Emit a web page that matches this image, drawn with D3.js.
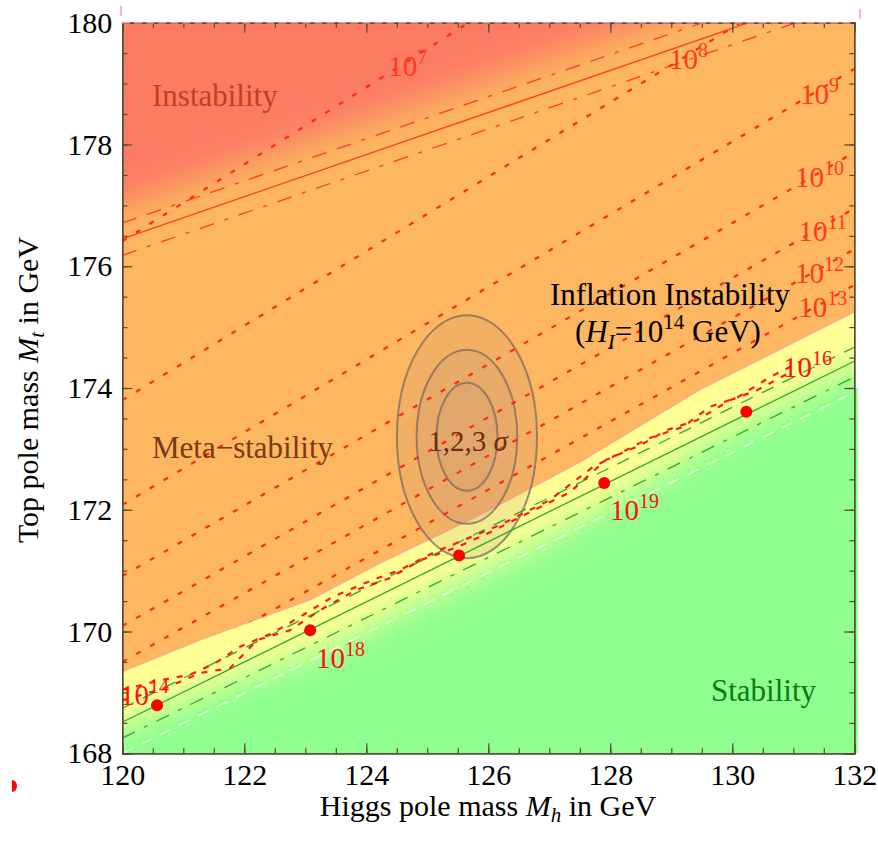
<!DOCTYPE html>
<html>
<head>
<meta charset="utf-8">
<script src="https://cdn.jsdelivr.net/npm/d3@7"></script>
<style>
  body { margin: 0; background: #fff; }
  svg text { font-family: "Liberation Serif", "Times New Roman", serif; }
</style>
</head>
<body>
<div id="chart"></div>
<script>
// Axis ranges and tick labels.
const mhDomain = [120, 132];
const mtDomain = [168, 180];
const mhTicks = [120, 122, 124, 126, 128, 130, 132];
const mtTicks = [168, 170, 172, 174, 176, 178, 180];

// Instability-scale contours (10^n GeV): top mass at Mh = 120 and Mh = 132.
const contourExps = [7, 8, 9, 10, 11, 12, 13];
const contourMt120 = [176.41, 173.80, 172.08, 170.91, 170.09, 169.50, 168.97];
const contourMt132 = [184.00, 181.14, 179.24, 177.87, 176.95, 176.28, 175.69];

// Lifetime boundary (red, top) and its band.
const lifeCentral = [[120, 176.45], [132, 180.60]];
const lifeUpper = [[120, 176.71], [132, 180.86]];
const lifeLower = [[120, 176.18], [132, 180.33]];
// Edge of the red "Instability" shading.
const instabEdge = [[120, 177.00], [132, 181.15]];

// Absolute stability line (green) and its band.
const stabCentral = [[120, 168.51], [132, 174.44]];
const stabUpper = [[120, 168.74], [132, 174.67]];
const stabLower = [[120, 168.25], [132, 174.18]];
const stabLower2 = [[120, 168.00], [132, 173.93]];

// Inflation instability boundary for H_I = 10^14 GeV.
const inflationEdge = [
  [120.00, 169.34], [121.28, 169.86], [123.08, 170.52], [124.22, 171.12],
  [125.86, 171.91], [127.50, 172.78], [129.47, 173.97], [132.00, 175.25]
];

// Noisy high-scale contours near the stability line.
const wiggleA = [
  [120.00, 169.04], [120.62, 169.20], [121.11, 169.29], [121.52, 169.48],
  [121.93, 169.75], [122.47, 169.98], [122.91, 170.24], [123.45, 170.57],
  [124.11, 170.85], [124.55, 171.01], [125.09, 171.29], [125.59, 171.50],
  [126.19, 171.75], [127.01, 172.16], [127.71, 172.70], [128.16, 172.93],
  [128.65, 173.18], [129.19, 173.36], [129.63, 173.69], [130.09, 173.85],
  [130.62, 174.18], [131.11, 174.43]
];
const wiggleB = [
  [120.00, 168.87], [120.70, 169.07], [121.28, 169.32], [121.77, 169.40],
  [122.21, 169.86], [122.75, 170.02], [123.24, 170.35], [123.83, 170.68],
  [124.39, 170.88], [124.88, 171.17], [125.45, 171.37], [126.03, 171.63],
  [126.68, 171.96], [127.34, 172.29], [127.93, 172.82], [128.49, 173.06],
  [128.93, 173.31], [129.42, 173.47], [129.96, 173.80], [130.40, 173.96],
  [130.95, 174.26]
];

// Points on the stability line.
const dotMh = [120.57, 123.08, 125.52, 127.90, 130.23];
const dotMt = [168.79, 170.02, 171.25, 172.44, 173.61];

// Measured masses: 1,2,3 sigma ellipses.
const ellipseCenter = [125.65, 173.20];
const ellipseRMh = [1.148, 0.825, 0.50];
const ellipseRMt = [1.995, 1.43, 0.887];

// Page and plot geometry.
const W = 878, H = 848;
const px0 = 122.3, px1 = 854.3, py0 = 753.3, py1 = 22.7;

const x = d3.scaleLinear().domain(mhDomain).range([px0, px1]);
const y = d3.scaleLinear().domain(mtDomain).range([py0, py1]);

const svg = d3.select('#chart').append('svg')
  .attr('width', W)
  .attr('height', H);

const lineAt = (seg, mh) => seg[0][1] + (seg[1][1] - seg[0][1]) * (mh - seg[0][0]) / (seg[1][0] - seg[0][0]);
const line = d3.line().x(d => x(d[0])).y(d => y(d[1]));

// Extend the inflation edge a bit beyond the plot so blur does not fade at the sides.
const n = inflationEdge.length;
const edgeExt = [
  [118, lineAt([inflationEdge[0], inflationEdge[1]], 118)],
  ...inflationEdge,
  [134, lineAt([inflationEdge[n - 2], inflationEdge[n - 1]], 134)]
];
const belowPoly = [...edgeExt, [134, 160], [118, 160]];
const abovePoly = [...edgeExt, [134, 190], [118, 190]];

const defs = svg.append('defs');
defs.append('clipPath').attr('id', 'plotClip')
  .append('rect')
    .attr('x', px0).attr('y', py1)
    .attr('width', px1 - px0).attr('height', py0 - py1);
defs.append('clipPath').attr('id', 'belowClip')
  .append('path').attr('d', line(belowPoly) + 'Z');
defs.append('clipPath').attr('id', 'aboveClip')
  .append('path').attr('d', line(abovePoly) + 'Z');

const blur = (id, sd) => defs.append('filter').attr('id', id)
    .attr('filterUnits', 'userSpaceOnUse')
    .attr('x', -100).attr('y', -100).attr('width', W + 200).attr('height', H + 200)
  .append('feGaussianBlur').attr('stdDeviation', sd);
blur('blurRed', 17);
blur('blurYellow', 15);

// Green strip that sticks out past the right frame in the original.
svg.append('rect')
  .attr('x', px1).attr('y', y(174))
  .attr('width', 3.5).attr('height', py0 - y(174))
  .attr('fill', '#8fff8f');

const plot = svg.append('g').attr('clip-path', 'url(#plotClip)');

// Meta-stability background.
plot.append('rect')
  .attr('x', px0).attr('y', py1)
  .attr('width', px1 - px0).attr('height', py0 - py1)
  .attr('fill', '#fcb760');

// Instability region (blurred edge).
const redPoly = [[117, lineAt(instabEdge, 117)], [135, lineAt(instabEdge, 135)], [135, 186], [117, 186]];
plot.append('path')
  .attr('d', line(redPoly) + 'Z')
  .attr('fill', '#fb7b63')
  .attr('filter', 'url(#blurRed)');

// Stability region with a yellow fringe along the inflation edge.
plot.append('path')
  .attr('d', line(belowPoly) + 'Z')
  .attr('fill', '#8fff8f');
plot.append('g')
    .attr('clip-path', 'url(#belowClip)')
  .append('path')
    .attr('d', line(edgeExt))
    .attr('fill', 'none')
    .attr('stroke', '#ffff94')
    .attr('stroke-width', 100)
    .attr('filter', 'url(#blurYellow)');
plot.append('path')
  .attr('d', line(inflationEdge))
  .attr('fill', 'none')
  .attr('stroke', '#f4a0a8')
  .attr('stroke-width', 1.2)
  .attr('opacity', 0.8);

// Ellipses.
ellipseRMh.forEach((r, i) => {
  plot.append('ellipse')
    .attr('cx', x(ellipseCenter[0]))
    .attr('cy', y(ellipseCenter[1]))
    .attr('rx', x(ellipseCenter[0] + r) - x(ellipseCenter[0]))
    .attr('ry', y(ellipseCenter[1]) - y(ellipseCenter[1] + ellipseRMt[i]))
    .attr('fill', 'rgb(200,150,120)')
    .attr('fill-opacity', 0.2)
    .attr('stroke', 'rgb(125,105,95)')
    .attr('stroke-opacity', 0.75)
    .attr('stroke-width', 2);
});

// Instability-scale contours, only in the meta-stable region.
const contours = plot.append('g').attr('clip-path', 'url(#aboveClip)');
contourExps.forEach((e, i) => {
  contours.append('path')
    .attr('d', line([[120, contourMt120[i]], [132, contourMt132[i]]]))
    .attr('fill', 'none')
    .attr('stroke', '#ff2a12')
    .attr('stroke-width', 2.2)
    .attr('stroke-dasharray', '5,11');
});

// Lifetime boundary lines.
const addLine = (seg, color, width, dash) => plot.append('path')
  .attr('d', line(seg))
  .attr('fill', 'none')
  .attr('stroke', color)
  .attr('stroke-width', width)
  .attr('stroke-dasharray', dash);
addLine(lifeCentral, '#ff3b1f', 1.3, null);
addLine(lifeUpper, '#ff3b1f', 1.3, '15,11,15,11,4,11');
addLine(lifeLower, '#ff3b1f', 1.3, '15,11,4,11');

// Stability lines.
addLine(stabCentral, '#2eaa2e', 1.3, null);
addLine(stabUpper, '#2eaa2e', 1.3, '13,10');
addLine(stabLower, '#2eaa2e', 1.3, '14,10,4,10');
addLine(stabLower2, 'rgba(255,255,255,0.75)', 1.3, '12,9');

// Wiggly contours.
[wiggleA, wiggleB].forEach(w => {
  plot.append('path')
    .attr('d', line(w))
    .attr('fill', 'none')
    .attr('stroke', '#ff1a1a')
    .attr('stroke-width', 2.2)
    .attr('stroke-dasharray', '6,8');
});

// Dots.
plot.selectAll('circle.dot')
  .data(dotMh)
  .enter()
  .append('circle')
    .attr('class', 'dot')
    .attr('cx', d => x(d))
    .attr('cy', (d, i) => y(dotMt[i]))
    .attr('r', 6)
    .attr('fill', '#ff0000');

// Power-of-ten labels.
const powLabel = (px, py, exp, color, anchor) => {
  const t = svg.append('text')
    .attr('x', px).attr('y', py)
    .attr('fill', color)
    .attr('font-size', 29)
    .attr('text-anchor', anchor || 'middle');
  t.append('tspan').text('10');
  t.append('tspan').attr('font-size', 20).attr('dy', -12).text(exp);
};
const labelMh = {7: 124.55, 8: 129.15, 9: 131.3, 10: 131.3, 11: 131.35, 12: 131.3, 13: 131.35};
contourExps.forEach((e, i) => {
  const mh = labelMh[e];
  const mt = contourMt120[i] + (contourMt132[i] - contourMt120[i]) * (mh - 120) / 12;
  powLabel(x(mh) + 8, y(mt) + 10, e, '#ff3a1e');
});
powLabel(120, 705, 14, '#ff1010', 'start');
powLabel(316, 668, 18, '#ff1010', 'start');
powLabel(610, 520, 19, '#ff1010', 'start');
powLabel(783, 377, 16, '#ff1010', 'start');

// Region labels.
const label = (px, py, txt, color, size, anchor) => svg.append('text')
  .attr('x', px).attr('y', py)
  .attr('fill', color)
  .attr('font-size', size)
  .attr('text-anchor', anchor || 'start')
  .text(txt);
label(152, 106, 'Instability', '#c83c24', 31);
label(152, 458, 'Meta\u2212stability', '#7a3a12', 31);
label(711, 701, 'Stability', '#0e7a12', 31);

const sig = svg.append('text')
  .attr('x', 468).attr('y', 451)
  .attr('fill', '#6b2e12')
  .attr('font-size', 29)
  .attr('text-anchor', 'middle');
sig.append('tspan').text('1,2,3 ');
sig.append('tspan').attr('font-style', 'italic').text('\u03c3');

label(670, 305, 'Inflation Instability', '#000', 31, 'middle');
const hi = svg.append('text')
  .attr('x', 668).attr('y', 342)
  .attr('fill', '#000')
  .attr('font-size', 31)
  .attr('text-anchor', 'middle');
hi.append('tspan').text('(');
hi.append('tspan').attr('font-style', 'italic').text('H');
hi.append('tspan').attr('font-style', 'italic').attr('font-size', 21).attr('dy', 7).text('I');
hi.append('tspan').attr('dy', -7).text('=10');
hi.append('tspan').attr('font-size', 21).attr('dy', -13).text('14');
hi.append('tspan').attr('dy', 13).text(' GeV)');

// Axes.
const axisColor = '#5b4636';
const styleAxis = g => {
  g.select('.domain').attr('stroke', axisColor).attr('stroke-width', 1.3);
  g.selectAll('.tick line').attr('stroke', axisColor).attr('stroke-width', 1.2);
  g.selectAll('text')
    .attr('font-family', '"Liberation Serif", "Times New Roman", serif')
    .attr('font-size', 30)
    .attr('fill', '#000');
};
const minorMh = d3.range(120, 132.01, 0.5);
const minorMt = d3.range(168, 180.01, 0.5);

svg.append('g').attr('transform', `translate(0,${py0})`)
  .call(d3.axisBottom(x).tickValues(minorMh).tickSize(-5).tickFormat(''))
  .call(styleAxis);
svg.append('g').attr('transform', `translate(0,${py0})`)
  .call(d3.axisBottom(x).tickValues(mhTicks).tickSize(-10).tickPadding(10).tickFormat(d3.format('d')))
  .call(styleAxis);
svg.append('g').attr('transform', `translate(${px0},0)`)
  .call(d3.axisLeft(y).tickValues(minorMt).tickSize(-5).tickFormat(''))
  .call(styleAxis);
svg.append('g').attr('transform', `translate(${px0},0)`)
  .call(d3.axisLeft(y).tickValues(mtTicks).tickSize(-10).tickPadding(10).tickFormat(d3.format('d')))
  .call(styleAxis);
svg.append('g').attr('transform', `translate(0,${py1})`)
  .call(d3.axisTop(x).tickValues(minorMh).tickSize(-5).tickFormat(''))
  .call(styleAxis);
svg.append('g').attr('transform', `translate(0,${py1})`)
  .call(d3.axisTop(x).tickValues(mhTicks).tickSize(-10).tickFormat(''))
  .call(styleAxis);
svg.append('g').attr('transform', `translate(${px1},0)`)
  .call(d3.axisRight(y).tickValues(minorMt).tickSize(-5).tickFormat(''))
  .call(styleAxis);
svg.append('g').attr('transform', `translate(${px1},0)`)
  .call(d3.axisRight(y).tickValues(mtTicks).tickSize(-10).tickFormat(''))
  .call(styleAxis);

// Faint pink top edge.
svg.append('line')
  .attr('x1', px0).attr('x2', px1).attr('y1', py1).attr('y2', py1)
  .attr('stroke', '#f3a0a0').attr('stroke-width', 1.5).attr('stroke-dasharray', '8,4');

// Axis titles.
const xt = svg.append('text')
  .attr('x', 488).attr('y', 816)
  .attr('font-size', 30)
  .attr('text-anchor', 'middle');
xt.append('tspan').text('Higgs pole mass ');
xt.append('tspan').attr('font-style', 'italic').text('M');
xt.append('tspan').attr('font-style', 'italic').attr('font-size', 21).attr('dy', 6).text('h');
xt.append('tspan').attr('dy', -6).text(' in GeV');

const yt = svg.append('text')
  .attr('transform', 'translate(38,390) rotate(-90)')
  .attr('font-size', 30)
  .attr('text-anchor', 'middle');
yt.append('tspan').text('Top pole mass ');
yt.append('tspan').attr('font-style', 'italic').text('M');
yt.append('tspan').attr('font-style', 'italic').attr('font-size', 21).attr('dy', 6).text('t');
yt.append('tspan').attr('dy', -6).text(' in GeV');

// Small stray marks of the original export.
svg.append('line').attr('x1', 121).attr('x2', 121).attr('y1', 6).attr('y2', 16)
  .attr('stroke', '#f6a0a0').attr('stroke-width', 1.5);
svg.append('line').attr('x1', 860).attr('x2', 860).attr('y1', 9).attr('y2', 19)
  .attr('stroke', '#f6a0a0').attr('stroke-width', 1.5);
svg.append('path').attr('d', 'M12,780 A5,6 0 0 1 12,792 Z').attr('fill', '#ff0000');
</script>
</body>
</html>
